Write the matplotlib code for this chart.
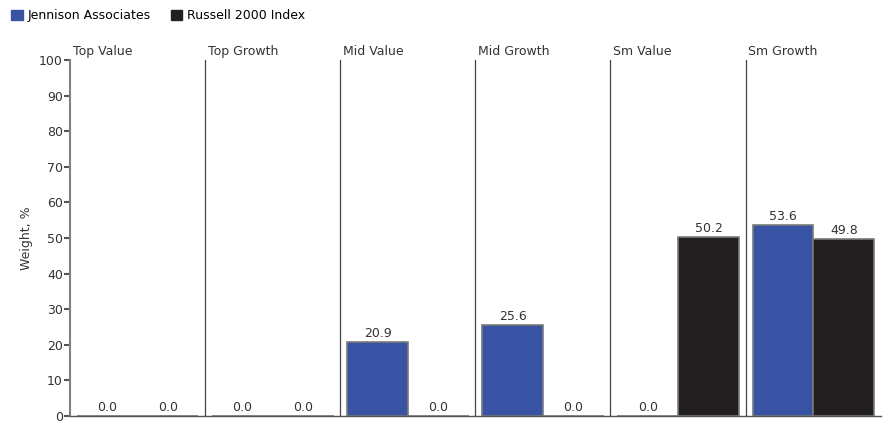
import matplotlib
matplotlib.use("Agg")
import matplotlib.pyplot as plt
import numpy as np

# Style box weights
categories = ["Top Value", "Top Growth", "Mid Value", "Mid Growth", "Sm Value", "Sm Growth"]
jennison = [0.0, 0.0, 20.9, 25.6, 0.0, 53.6]
russell = [0.0, 0.0, 0.0, 0.0, 50.2, 49.8]
series_names = ["Jennison Associates", "Russell 2000 Index"]
colors = ["#3953A4", "#231F20"]

fig = plt.figure(figsize=(8.95, 4.25), dpi=100)
ax = fig.add_axes([0.078, 0.021, 0.906, 0.838])

x = np.arange(len(categories))
w = 0.45
for vals, off, c in [(jennison, 0.277, colors[0]), (russell, 0.727, colors[1])]:
    bars = ax.bar(x + off, vals, width=w, color=c, edgecolor="#7a7a7a", linewidth=1.2)
    for b, v in zip(bars, vals):
        ax.annotate(f"{v:.1f}", (b.get_x() + b.get_width() / 2, v), xytext=(0, 1.5),
                    textcoords="offset points", ha="center", va="bottom",
                    fontsize=9, color="#333333")

# group dividers and titles
for i, name in enumerate(categories):
    if i > 0:
        ax.plot([i, i], [0, 100], color="#444444", linewidth=0.9, clip_on=False)
    ax.text(i + 0.02, 100.5, name, ha="left", va="bottom", fontsize=9, color="#333333")

ax.set_xlim(0, len(categories))
ax.set_ylim(0, 100)
ax.set_yticks(range(0, 101, 10))
ax.set_xticks([])
ax.tick_params(axis="y", direction="out", length=4, width=1.5, color="#555555",
               labelsize=9, labelcolor="#333333", pad=1)
for s in ["top", "right"]:
    ax.spines[s].set_visible(False)
ax.spines["left"].set_color("#808080")
ax.spines["left"].set_linewidth(1.5)
ax.spines["bottom"].set_color("#555555")
ax.spines["bottom"].set_linewidth(1.0)
ax.set_ylabel("Weight, %", fontsize=9, color="#333333", labelpad=4)

# legend
handles = [plt.Rectangle((0, 0), 1, 1, color=c) for c in colors]
fig.legend(handles, series_names, loc="upper left", bbox_to_anchor=(0.0, 1.005),
           ncol=2, frameon=False, fontsize=9, handlelength=0.9, handleheight=0.9,
           handletextpad=0.4, columnspacing=1.6)

fig.savefig("out.png", dpi=100)
